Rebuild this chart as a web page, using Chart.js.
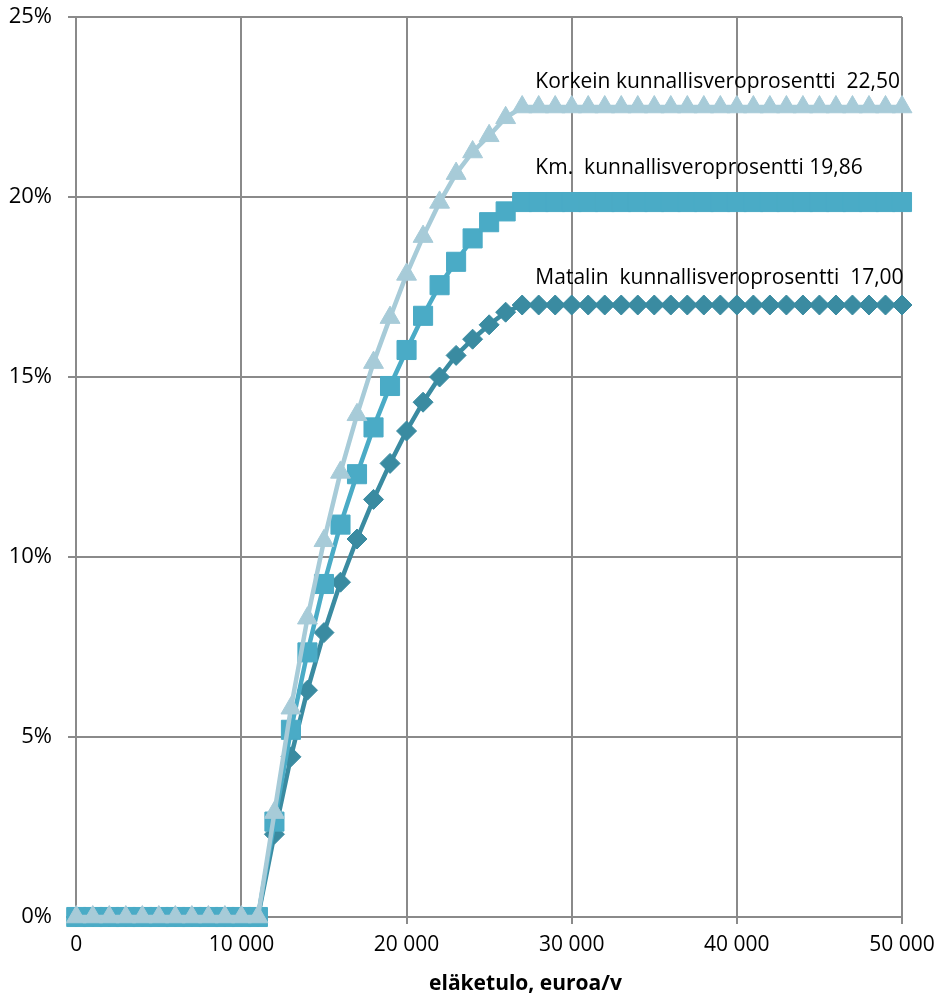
<!DOCTYPE html>
<html lang="fi">
  <head>
    <meta charset="UTF-8" />
    <title>Eläketulon verotus</title>
    <script src="https://cdn.jsdelivr.net/npm/chart.js@4"></script>
    <style>
      html, body { margin: 0; padding: 0; background: #ffffff; }
      #wrap { width: 939px; height: 999px; }
    </style>
  </head>
  <body>
    <div id="wrap"><canvas id="taxChart" width="939" height="999"></canvas></div>

    <script>
      // eläketulo, euroa/v
      const income = [
        0, 1000, 2000, 3000, 4000, 5000, 6000, 7000, 8000, 9000,
        10000, 11000, 12000, 13000, 14000, 15000, 16000, 17000, 18000, 19000,
        20000, 21000, 22000, 23000, 24000, 25000, 26000, 27000, 28000, 29000,
        30000, 31000, 32000, 33000, 34000, 35000, 36000, 37000, 38000, 39000,
        40000, 41000, 42000, 43000, 44000, 45000, 46000, 47000, 48000, 49000,
        50000,
      ];

      // veroaste, %
      const korkein = [
        0, 0, 0, 0, 0, 0, 0, 0, 0, 0,
        0, 0, 2.9, 5.8, 8.3, 10.45, 12.35, 13.95, 15.4, 16.65,
        17.85, 18.9, 19.85, 20.65, 21.25, 21.7, 22.2, 22.5, 22.5, 22.5,
        22.5, 22.5, 22.5, 22.5, 22.5, 22.5, 22.5, 22.5, 22.5, 22.5,
        22.5, 22.5, 22.5, 22.5, 22.5, 22.5, 22.5, 22.5, 22.5, 22.5,
        22.5,
      ];
      const keski = [
        0, 0, 0, 0, 0, 0, 0, 0, 0, 0,
        0, 0, 2.65, 5.2, 7.35, 9.25, 10.9, 12.3, 13.6, 14.75,
        15.75, 16.7, 17.55, 18.2, 18.85, 19.3, 19.6, 19.86, 19.86, 19.86,
        19.86, 19.86, 19.86, 19.86, 19.86, 19.86, 19.86, 19.86, 19.86, 19.86,
        19.86, 19.86, 19.86, 19.86, 19.86, 19.86, 19.86, 19.86, 19.86, 19.86,
        19.86,
      ];
      const matalin = [
        0, 0, 0, 0, 0, 0, 0, 0, 0, 0,
        0, 0, 2.3, 4.45, 6.3, 7.9, 9.3, 10.5, 11.6, 12.6,
        13.5, 14.3, 15.0, 15.6, 16.05, 16.45, 16.8, 17.0, 17.0, 17.0,
        17.0, 17.0, 17.0, 17.0, 17.0, 17.0, 17.0, 17.0, 17.0, 17.0,
        17.0, 17.0, 17.0, 17.0, 17.0, 17.0, 17.0, 17.0, 17.0, 17.0,
        17.0,
      ];

      const xTicks = [0, 10000, 20000, 30000, 40000, 50000];
      const xTickLabels = ["0", "10 000", "20 000", "30 000", "40 000", "50 000"];
      const yTicks = [0, 5, 10, 15, 20, 25];
      const yTickLabels = ["0%", "5%", "10%", "15%", "20%", "25%"];

      const seriesLabels = [
        "Korkein kunnallisveroprosentti  22,50",
        "Km.  kunnallisveroprosentti 19,86",
        "Matalin  kunnallisveroprosentti  17,00",
      ];
      // where the series labels sit (x in euros, y in %)
      const labelX = 27800;
      const labelY = [23.2, 20.8, 17.75];
      const axisTitle = "eläketulo, euroa/v";

      const FONT = "'Open Sans', 'DejaVu Sans', sans-serif";
      const GRID = "#8a8a8a";

      function toPoints(values) {
        return income.map((x, i) => ({ x: x, y: values[i] }));
      }

      // series labels and the x axis title
      const textPlugin = {
        id: "texts",
        afterDraw(chart) {
          const ctx = chart.ctx;
          const xs = chart.scales.x;
          const ys = chart.scales.y;
          ctx.save();
          ctx.fillStyle = "#000000";
          ctx.font = "21px " + FONT;
          ctx.textAlign = "left";
          ctx.textBaseline = "middle";
          seriesLabels.forEach((t, i) => {
            ctx.fillText(t, xs.getPixelForValue(labelX), ys.getPixelForValue(labelY[i]));
          });
          ctx.font = "bold 21px " + FONT;
          ctx.textAlign = "center";
          ctx.fillText(axisTitle, xs.getPixelForValue(27200), xs.bottom - 15);
          ctx.restore();
        },
      };

      const common = {
        borderWidth: 4.5,
        pointBorderWidth: 1,
        tension: 0,
        clip: false,
      };

      new Chart(document.getElementById("taxChart"), {
        type: "line",
        data: {
          datasets: [
            {
              ...common,
              label: seriesLabels[0],
              data: toPoints(korkein),
              borderColor: "#a7cbd8",
              backgroundColor: "#a7cbd8",
              pointStyle: "triangle",
              pointRadius: 11.5,
            },
            {
              ...common,
              label: seriesLabels[1],
              data: toPoints(keski),
              borderColor: "#4aabc6",
              backgroundColor: "#4aabc6",
              pointStyle: "rect",
              pointRadius: 13.5,
            },
            {
              ...common,
              label: seriesLabels[2],
              data: toPoints(matalin),
              borderColor: "#3a8ba1",
              backgroundColor: "#3a8ba1",
              pointStyle: "rectRot",
              pointRadius: 10,
            },
          ],
        },
        options: {
          responsive: false,
          animation: false,
          layout: {
            padding: { top: 17, right: 37, bottom: 0, left: 0 },
          },
          plugins: {
            legend: { display: false },
            tooltip: { enabled: false },
          },
          scales: {
            x: {
              type: "linear",
              min: -500,
              max: 50000,
              afterBuildTicks: (s) => {
                s.ticks = xTicks.map((v) => ({ value: v }));
              },
              afterFit: (s) => {
                s.height = 82;
                s.paddingLeft = 0;
                s.paddingRight = 0;
              },
              grid: {
                color: GRID,
                lineWidth: 2,
                drawTicks: true,
                tickLength: 7,
              },
              border: { display: false },
              ticks: {
                autoSkip: false,
                maxRotation: 0,
                padding: 8,
                color: "#000000",
                font: { family: FONT, size: 21 },
                callback: (v) => xTickLabels[xTicks.indexOf(v)],
              },
            },
            y: {
              min: 0,
              max: 25,
              afterBuildTicks: (s) => {
                s.ticks = yTicks.map((v) => ({ value: v }));
              },
              afterFit: (s) => {
                s.width = 68;
                s.paddingTop = 0;
                s.paddingBottom = 0;
              },
              grid: {
                color: GRID,
                lineWidth: 2,
                drawTicks: false,
              },
              border: { display: false },
              ticks: {
                padding: 16,
                color: "#000000",
                font: { family: FONT, size: 22 },
                callback: (v) => yTickLabels[yTicks.indexOf(v)],
              },
            },
          },
        },
        plugins: [textPlugin],
      });
    </script>
  </body>
</html>
